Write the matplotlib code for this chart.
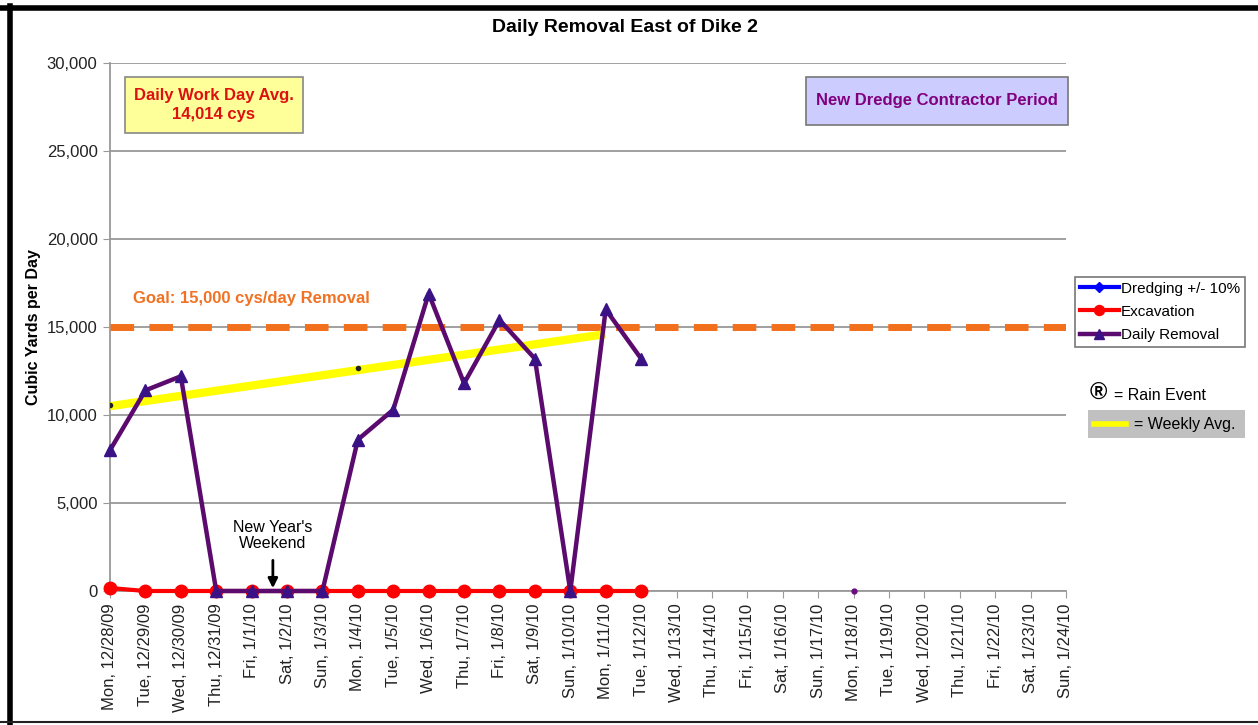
import matplotlib
matplotlib.use("Agg")
import matplotlib.pyplot as plt
from matplotlib.lines import Line2D
from matplotlib.patches import Rectangle

plt.rcParams['font.family'] = ['Liberation Sans', 'DejaVu Sans']

# categories (one per day)
dates = ["Mon, 12/28/09", "Tue, 12/29/09", "Wed, 12/30/09", "Thu, 12/31/09",
         "Fri, 1/1/10", "Sat, 1/2/10", "Sun, 1/3/10", "Mon, 1/4/10",
         "Tue, 1/5/10", "Wed, 1/6/10", "Thu, 1/7/10", "Fri, 1/8/10",
         "Sat, 1/9/10", "Sun, 1/10/10", "Mon, 1/11/10", "Tue, 1/12/10",
         "Wed, 1/13/10", "Thu, 1/14/10", "Fri, 1/15/10", "Sat, 1/16/10",
         "Sun, 1/17/10", "Mon, 1/18/10", "Tue, 1/19/10", "Wed, 1/20/10",
         "Thu, 1/21/10", "Fri, 1/22/10", "Sat, 1/23/10", "Sun, 1/24/10"]

# series values (cys/day)
removal = [8000, 11400, 12200, 0, 0, 0, 0, 8600, 10300, 16900,
           11800, 15400, 13200, 0, 16000, 13200]
excavation = [170, 0, 0, 0, 0, 0, 0, 0, 0, 0, 0, 0, 0, 0, 0, 0]
dredging = []

# weekly average trend (start / end day index)
weekly_x = [0, 14]
weekly_avg = [10500, 14600]

# stray single points visible on the chart
dot_x = [0, 7]
dot_y = [10560, 12670]
lone_x = [21]
lone_y = [0]

goal = 15000
yticks = [0, 5000, 10000, 15000, 20000, 25000, 30000]

W, H = 1258, 725
fig = plt.figure(figsize=(W / 100, H / 100), dpi=100)
ax = fig.add_axes([110 / W, 1 - 591 / H, (1066 - 110) / W, (591 - 63) / H])

x_all = list(range(len(dates)))
x_rem = x_all[:len(removal)]
x_exc = x_all[:len(excavation)]

ax.set_xlim(0, len(dates) - 1)
ax.set_ylim(0, 30000)
ax.set_yticks(yticks)
ax.set_yticklabels([f"{v:,}" for v in yticks])
ax.set_xticks(x_all)
ax.set_xticklabels(dates, rotation=90)
ax.tick_params(axis='x', labelsize=12, length=5, color='#999999', pad=4, labelcolor='#222222')
ax.tick_params(axis='y', labelsize=12, length=5, color='#999999', pad=4, labelcolor='#222222')
ax.grid(axis='y', color='#999999', lw=1.3)
ax.set_axisbelow(True)
for s in ['top', 'right']:
    ax.spines[s].set_visible(False)
for s in ['left', 'bottom']:
    ax.spines[s].set_color('#999999')
    ax.spines[s].set_linewidth(1.3)

# goal line
ax.plot([0, len(dates) - 1], [goal, goal], color='#f26f1c', lw=5,
        dashes=(3.4, 2.2), dash_capstyle='butt', zorder=3)

# weekly average trend
ax.plot(weekly_x, weekly_avg, color='#ffff00', lw=6, solid_capstyle='butt', zorder=4)
ax.plot(dot_x, dot_y, 'o', color='#222222', ms=3, zorder=4)

ax.plot(dredging, dredging, color='#0000ff', lw=3, marker='D', ms=7,
        label='Dredging +/- 10%')
ax.plot(x_exc, excavation, color='#ff0000', lw=3, marker='o', ms=9,
        mec='#ff0000', label='Excavation', zorder=5, clip_on=False)
ax.plot(x_rem, removal, color='#5b0a6e', lw=3.2, marker='^', ms=8.5,
        mfc='#3b1285', mec='#3b1285', label='Daily Removal', zorder=6, clip_on=False)
ax.plot(lone_x, lone_y, 'o', color='#6a0a7e', ms=3.5, zorder=6, clip_on=False)

ax.set_ylabel("Cubic Yards per Day", fontsize=11.5, fontweight='bold', labelpad=4)
fig.text(625 / W, 1 - 28 / H, "Daily Removal East of Dike 2", fontsize=14,
         fontweight='bold', ha='center', va='center')

# New Year's annotation
ax.text(4.6, 3150, "New Year's\nWeekend", ha='center', va='center',
        fontsize=11.5, linespacing=1.15)
ax.annotate('', xy=(4.6, 0), xytext=(4.6, 1900),
            arrowprops=dict(arrowstyle='-|>', color='black', lw=2, mutation_scale=14),
            zorder=7)

# goal label
fig.text(133 / W, 1 - 299 / H, "Goal: 15,000 cys/day Removal", color='#f07222',
         fontsize=12, fontweight='bold', va='center', ha='left')

# work day average box
fig.patches.append(Rectangle((125 / W, 1 - 133 / H), 178 / W, 56 / H,
                             transform=fig.transFigure, facecolor='#ffff99',
                             edgecolor='#888888', lw=1.2))
fig.text(214 / W, 1 - 105 / H, "Daily Work Day Avg.\n14,014 cys", color='#dd1111',
         fontsize=12, fontweight='bold', ha='center', va='center', linespacing=1.3)

# contractor period box
fig.patches.append(Rectangle((806 / W, 1 - 125 / H), 262 / W, 48 / H,
                             transform=fig.transFigure, facecolor='#ccccff',
                             edgecolor='#777777', lw=1.2))
fig.text(937 / W, 1 - 101 / H, "New Dredge Contractor Period", color='#800080',
         fontsize=12, fontweight='bold', ha='center', va='center')

# legend
leg = fig.legend(loc='upper left', bbox_to_anchor=(1075 / W, 1 - 277 / H),
                 fontsize=11, frameon=True, fancybox=False, borderaxespad=0,
                 handlelength=2.6, handletextpad=0.1, borderpad=0.3,
                 labelspacing=0.6, markerscale=0.8)
leg.get_frame().set_edgecolor('#555555')
leg.get_frame().set_linewidth(1.2)

# rain event and weekly avg key
fig.text(1090 / W, 1 - 393 / H, "\u00ae", fontsize=17, fontweight='bold',
         va='center', ha='left')
fig.text(1114 / W, 1 - 395 / H, "= Rain Event", fontsize=11.5, va='center', ha='left')
fig.patches.append(Rectangle((1088 / W, 1 - 438 / H), 157 / W, 28 / H,
                             transform=fig.transFigure, facecolor='#c0c0c0',
                             edgecolor='none'))
fig.lines.append(Line2D([1094 / W, 1126 / W], [1 - 424 / H, 1 - 424 / H],
                        transform=fig.transFigure, color='#ffff00', lw=4))
fig.text(1134 / W, 1 - 424 / H, "= Weekly Avg.", fontsize=11.5, va='center', ha='left')

# outer frame
fig.lines.append(Line2D([0, 1], [1 - 7.5 / H, 1 - 7.5 / H], transform=fig.transFigure,
                        color='black', lw=4))
fig.lines.append(Line2D([9.5 / W, 9.5 / W], [0, 1 - 6 / H], transform=fig.transFigure,
                        color='black', lw=4))
fig.lines.append(Line2D([0, 1], [1 - 722 / H, 1 - 722 / H], transform=fig.transFigure,
                        color='#222222', lw=1.5))

fig.savefig("out.png", dpi=100)
